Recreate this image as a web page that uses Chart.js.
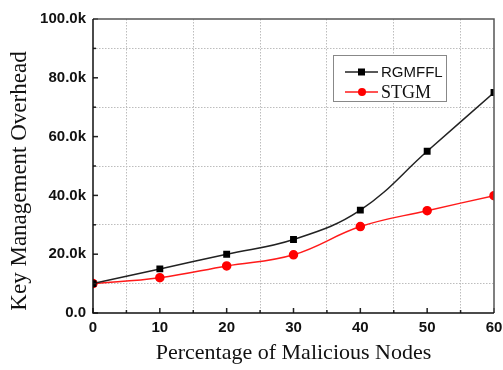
<!DOCTYPE html>
<html>
<head>
<meta charset="utf-8">
<script src="https://cdn.jsdelivr.net/npm/chart.js@4"></script>
<style>
  html, body { margin: 0; padding: 0; background: #fff; }
  #wrap { width: 503px; height: 370px; }
</style>
</head>
<body>
<div id="wrap"><canvas id="lineChart" width="503" height="370"></canvas></div>
<script>
const nodesPct = [0, 10, 20, 30, 40, 50, 60];
const rgmffl = [10000, 15000, 20000, 25000, 35000, 55000, 75000];
const stgm = [10000, 12000, 16000, 19800, 29400, 34800, 39900];
const seriesNames = ['RGMFFL', 'STGM'];
const xTitle = 'Percentage of Malicious Nodes';
const yTitle = 'Key Management Overhead';

function toPoints(xs, ys) {
    return xs.map((x, i) => ({ x: x, y: ys[i] }));
}

// inward tick marks, frame, y title and the boxed legend
const framePlugin = {
    id: 'frame',
    afterDraw(chart) {
        const c = chart.ctx;
        const a = chart.chartArea;
        const xs = chart.scales.x;
        const ys = chart.scales.y;
        c.save();
        c.strokeStyle = '#222';
        c.lineWidth = 1.5;
        for (let v = 0; v <= 60; v += 5) {
            const px = xs.getPixelForValue(v);
            const len = v % 10 === 0 ? 5 : 3;
            c.beginPath();
            c.moveTo(px, a.bottom);
            c.lineTo(px, a.bottom - len);
            c.stroke();
        }
        for (let v = 0; v <= 100000; v += 10000) {
            const py = ys.getPixelForValue(v);
            const len = v % 20000 === 0 ? 5 : 3;
            c.beginPath();
            c.moveTo(a.left, py);
            c.lineTo(a.left + len, py);
            c.stroke();
        }
        c.strokeStyle = '#555';
        c.lineWidth = 1.5;
        c.beginPath();
        c.moveTo(a.left, a.top);
        c.lineTo(a.right, a.top);
        c.lineTo(a.right, a.bottom);
        c.stroke();
        c.strokeStyle = '#111';
        c.beginPath();
        c.moveTo(a.left, a.top);
        c.lineTo(a.left, a.bottom);
        c.lineTo(a.right, a.bottom);
        c.stroke();

        // y axis title
        c.save();
        c.translate(20, 181);
        c.rotate(-Math.PI / 2);
        c.fillStyle = '#111';
        c.font = '23px "Liberation Serif", "Times New Roman", serif';
        c.textAlign = 'center';
        c.textBaseline = 'middle';
        c.fillText(yTitle, 0, 0);
        c.restore();

        // legend
        const bx = 333, by = 55, bw = 113, bh = 46;
        c.fillStyle = '#fff';
        c.fillRect(bx, by, bw, bh);
        c.strokeStyle = '#888';
        c.lineWidth = 1;
        c.strokeRect(bx + 0.5, by + 0.5, bw, bh);
        const fonts = ['15px "Liberation Sans", Arial, sans-serif', '18px "Liberation Serif", "Times New Roman", serif'];
        chart.data.datasets.forEach((ds, i) => {
            const ry = by + 17 + i * 20;
            c.strokeStyle = ds.borderColor;
            c.lineWidth = 1.5;
            c.beginPath();
            c.moveTo(bx + 12, ry);
            c.lineTo(bx + 45, ry);
            c.stroke();
            c.fillStyle = ds.pointBackgroundColor;
            if (ds.pointStyle === 'rect') {
                c.fillRect(bx + 25, ry - 3.5, 7, 7);
            } else {
                c.beginPath();
                c.arc(bx + 29, ry, 4, 0, Math.PI * 2);
                c.fill();
            }
            c.fillStyle = '#111';
            c.font = fonts[i];
            c.textBaseline = 'middle';
            c.fillText(ds.label, bx + 48, ry + 1);
        });
        c.restore();
    }
};

const data = {
    datasets: [{
        label: seriesNames[0],
        data: toPoints(nodesPct, rgmffl),
        borderColor: '#222',
        backgroundColor: '#000',
        pointBackgroundColor: '#000',
        pointBorderColor: '#000',
        pointStyle: 'rect',
        pointRadius: 3.8,
        borderWidth: 1.5,
        tension: 0.4
    }, {
        label: seriesNames[1],
        data: toPoints(nodesPct, stgm),
        borderColor: '#ff1a1a',
        backgroundColor: '#ff0000',
        pointBackgroundColor: '#ff0000',
        pointBorderColor: '#ff0000',
        pointStyle: 'circle',
        pointRadius: 4,
        borderWidth: 1.5,
        tension: 0.4
    }]
};

const tickFont = { family: '"Liberation Sans", Arial, sans-serif', size: 15, weight: 'bold' };
const titleFont = { family: '"Liberation Serif", "Times New Roman", serif', size: 22 };

const config = {
    type: 'line',
    data: data,
    options: {
        responsive: false,
        animation: false,
        layout: { padding: { top: 19, right: 9, left: 0, bottom: 0 } },
        plugins: { legend: { display: false }, tooltip: { enabled: false } },
        scales: {
            x: {
                type: 'linear',
                min: 0, max: 60,
                afterFit: s => { s.height = 57; s.paddingRight = 0; },
                ticks: {
                    stepSize: 5,
                    autoSkip: false,
                    maxRotation: 0,
                    color: '#111',
                    font: tickFont,
                    padding: 6,
                    callback: v => (v % 10 === 0 ? String(v) : '')
                },
                grid: {
                    drawTicks: false,
                    color: ctx => (ctx.tick && ctx.tick.value % 10 === 5 ? '#bdbdbd' : 'rgba(0,0,0,0)'),
                    lineWidth: 1
                },
                border: { display: false, dash: [1.5, 1.5] },
                title: { display: true, text: xTitle, font: titleFont, color: '#111', padding: { top: 4 } }
            },
            y: {
                min: 0, max: 100000,
                afterFit: s => { s.width = 93; },
                ticks: {
                    stepSize: 10000,
                    autoSkip: false,
                    color: '#111',
                    font: tickFont,
                    padding: 7,
                    callback: v => (v % 20000 === 0 ? (v === 0 ? '0.0' : (v / 1000).toFixed(1) + 'k') : '')
                },
                grid: {
                    drawTicks: false,
                    color: ctx => (ctx.tick && ctx.tick.value % 20000 === 10000 ? '#bdbdbd' : 'rgba(0,0,0,0)'),
                    lineWidth: 1
                },
                border: { display: false, dash: [1.5, 1.5] },
                title: { display: false }
            }
        }
    },
    plugins: [framePlugin]
};

let ctx = document.getElementById('lineChart').getContext('2d');
new Chart(ctx, config);
</script>
</body>
</html>
